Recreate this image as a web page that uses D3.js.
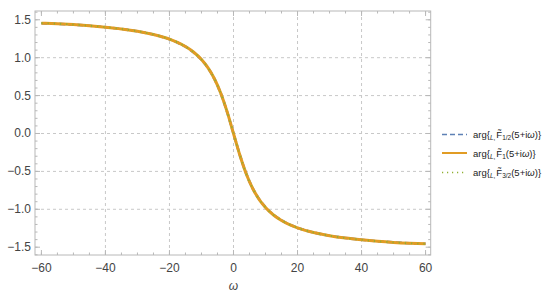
<!DOCTYPE html>
<html><head><meta charset="utf-8">
<script src="https://cdn.jsdelivr.net/npm/d3@7"></script>
<style>body{margin:0;background:#fff}svg{font-family:"Liberation Sans",Arial,sans-serif}</style>
</head><body><svg id="c" width="550" height="295"></svg>
<script>
const omega = [-60,-55,-50,-45,-40,-35,-30,-25,-20,-17.5,-15,-12.5,-10,-8,-6,-4,-2,0,2,4,6,8,10,12.5,15,17.5,20,25,30,35,40,45,50,55,60];
const argHalf = [1.455,1.447,1.436,1.421,1.402,1.379,1.348,1.305,1.243,1.200,1.145,1.072,0.973,0.866,0.723,0.532,0.286,0,-0.286,-0.532,-0.723,-0.866,-0.973,-1.072,-1.145,-1.200,-1.243,-1.305,-1.348,-1.379,-1.402,-1.421,-1.436,-1.447,-1.455];
const argOne = [1.456,1.448,1.437,1.422,1.403,1.380,1.349,1.306,1.245,1.202,1.147,1.075,0.976,0.869,0.726,0.535,0.288,0,-0.288,-0.535,-0.726,-0.869,-0.976,-1.075,-1.147,-1.202,-1.245,-1.306,-1.349,-1.380,-1.403,-1.422,-1.437,-1.448,-1.456];
const argThreeHalf = [1.456,1.448,1.437,1.422,1.403,1.380,1.349,1.306,1.245,1.202,1.147,1.075,0.976,0.869,0.726,0.535,0.288,0,-0.288,-0.535,-0.726,-0.869,-0.976,-1.075,-1.147,-1.202,-1.245,-1.306,-1.349,-1.380,-1.403,-1.422,-1.437,-1.448,-1.456];
const xTicks = [-60,-40,-20,0,20,40,60];
const yTicks = [-1.5,-1.0,-0.5,0.0,0.5,1.0,1.5];
const legendLabels = ["1/2","1","3/2"];
const colors = ["#5E81B5","#E19C24","#8FB032"];

const svg = d3.select("#c");
const L=35, R=430.7, T=11, B=255;
const x = d3.scaleLinear().domain([-62.0,61.6]).range([L,R]);
const y = d3.scaleLinear().domain([-1.603,1.616]).range([B,T]);

// grid
const gridX = xTicks.filter(v=>v>-60&&v<60), gridY = yTicks.filter(v=>v>-1.5&&v<1.5);
svg.append("g").selectAll("line").data(gridX).join("line")
  .attr("x1",d=>x(d)).attr("x2",d=>x(d)).attr("y1",T).attr("y2",B)
  .attr("stroke","#c8c8c8").attr("stroke-dasharray","3,3").attr("stroke-width",1);
svg.append("g").selectAll("line").data(gridY).join("line")
  .attr("y1",d=>y(d)).attr("y2",d=>y(d)).attr("x1",L).attr("x2",R)
  .attr("stroke","#c8c8c8").attr("stroke-dasharray","3,3").attr("stroke-width",1);

// frame
svg.append("rect").attr("x",L).attr("y",T).attr("width",R-L).attr("height",B-T)
  .attr("fill","none").attr("stroke","#b8b8b8").attr("stroke-width",1);

// ticks
const minorX = d3.range(-60,61,5), minorY = d3.range(-16,17).map(v=>v/10);
function tickLines(g, vals, len, horiz){
  vals.forEach(v=>{
    if(horiz){
      g.append("line").attr("x1",x(v)).attr("x2",x(v)).attr("y1",B).attr("y2",B-len).attr("stroke","#b8b8b8");
      g.append("line").attr("x1",x(v)).attr("x2",x(v)).attr("y1",T).attr("y2",T+len).attr("stroke","#b8b8b8");
    } else {
      g.append("line").attr("y1",y(v)).attr("y2",y(v)).attr("x1",L).attr("x2",L+len).attr("stroke","#b8b8b8");
      g.append("line").attr("y1",y(v)).attr("y2",y(v)).attr("x1",R).attr("x2",R-len).attr("stroke","#b8b8b8");
    }
  });
}
const tg = svg.append("g");
tickLines(tg, minorX, 2.5, true); tickLines(tg, xTicks, 5, true);
tickLines(tg, minorY, 2.5, false); tickLines(tg, yTicks, 5, false);

// tick labels
const fmtY = d3.format(".1f");
svg.append("g").selectAll("text").data(xTicks).join("text")
  .attr("x",d=>x(d)).attr("y",B+17).attr("text-anchor","middle")
  .attr("font-size",12).attr("fill","#444")
  .text(d=>d<0?"\u2212"+Math.abs(d):d);
svg.append("g").selectAll("text").data(yTicks).join("text")
  .attr("x",L-4).attr("y",d=>y(d)+4).attr("text-anchor","end")
  .attr("font-size",12).attr("fill","#444")
  .text(d=>d<0?"\u2212"+fmtY(Math.abs(d)):fmtY(d));
svg.append("text").attr("x",x(0)).attr("y",290).attr("text-anchor","middle")
  .attr("font-size",12).attr("font-style","italic").attr("fill","#444").text("\u03c9");

// curves
const line = d3.line().x((d,i)=>x(omega[i])).y(d=>y(d)).curve(d3.curveMonotoneX);
const series = [argHalf, argOne, argThreeHalf];
const dashes = ["6,3", null, "1.2,5"];
const widths = [2.6, 3, 1.8];
series.forEach((s,k)=>{
  svg.append("path").attr("d",line(s)).attr("fill","none")
    .attr("stroke",colors[k]).attr("stroke-width",widths[k])
    .attr("stroke-dasharray",dashes[k]);
});

// legend
const rowsY = [134.5,153,172.5];
legendLabels.forEach((lab,k)=>{
  const g = svg.append("g");
  g.append("line").attr("x1",442).attr("x2",467).attr("y1",rowsY[k]).attr("y2",rowsY[k])
    .attr("stroke",colors[k]).attr("stroke-width",k===1?2:1.6)
    .attr("stroke-dasharray",dashes[k]===null?null:(k===0?"5,3":"1.2,3.8"));
  const t = g.append("text").attr("x",473).attr("y",rowsY[k]+3.5).attr("font-size",9.5).attr("fill","#222");
  t.append("tspan").text("arg{");
  t.append("tspan").attr("font-size",6.5).attr("font-style","italic").attr("dy",2).text("L");
  t.append("tspan").attr("font-size",6.5).text(",");
  t.append("tspan").attr("dy",-2).attr("dx",1).text("F\u0303");
  t.append("tspan").attr("font-size",6.5).attr("dy",2).text(lab);
  t.append("tspan").attr("dy",-2).text("(5+i");
  t.append("tspan").attr("font-style","italic").text("\u03c9");
  t.append("tspan").text(")}");
});
</script></body></html>
